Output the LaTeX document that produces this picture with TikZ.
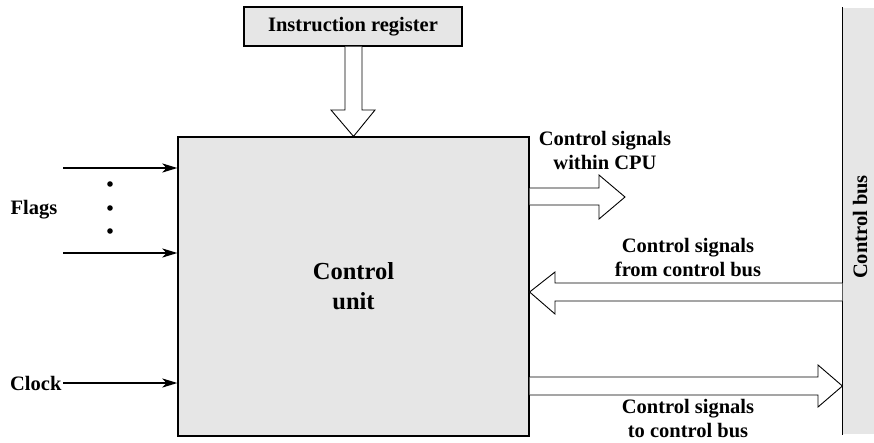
\documentclass[tikz,border=0pt]{standalone}
\usepackage{fontspec}
\setmainfont{Liberation Serif}
\usetikzlibrary{arrows.meta,positioning}
\definecolor{boxgray}{HTML}{E6E6E6}
\tikzset{
    hollow/.style={draw, fill=white, line width=0.9pt, line join=miter},
    flow/.style={line width=2.2pt, -{Stealth[length=15pt,width=9pt,inset=4pt]}},
    lbl/.style={font=\bfseries\fontsize{20.5}{24}\selectfont, align=center, inner sep=0pt}
}
\begin{document}
\begin{tikzpicture}[x=1pt, y=-1pt, every node/.style={line width=1.2pt}]
    \useasboundingbox (0,0) rectangle (874,442);
    % blocks
    \node[draw, fill=boxgray, minimum width=218pt, minimum height=39pt, lbl] (ir) at (353,26.5) {Instruction register};
    \node[draw, fill=boxgray, minimum width=351pt, minimum height=299pt, align=center,
          font=\bfseries\fontsize{24.5}{30}\selectfont] (cu) at (353.5,286.5) {Control\\unit};
    \node[fill=boxgray, minimum width=31pt, minimum height=426pt, inner sep=0pt] (bus) at (858.5,221) {};
    \draw[line width=1.2pt] (bus.north west) -- (bus.south west);
    \node[lbl, rotate=90] (buslbl) at (860,227) {Control bus};
    % inputs
    \coordinate (f1) at (63,168);
    \coordinate (f2) at (63,253);
    \draw[flow] (f1) -- (cu.west |- f1);
    \draw[flow] (f2) -- (cu.west |- f2);
    \foreach \y in {184,208,231} \fill (110,\y) circle (2.8pt);
    \node[lbl] (flags) at (34,210) {Flags};
    \node[lbl, anchor=east, inner sep=1pt] (clock) at (63,383) {Clock};
    \draw[flow] (clock.east) -- (cu.west |- clock.east);
    % hollow arrows
    \draw[hollow] (ir.south -| 345,0) -- (345,110) -- (331,110) -- (cu.north) -- (375,110) -- (362,110) -- (ir.south -| 362,0);
    \draw[hollow] (cu.east |- 0,188) -- (599,188) -- (599,175) -- (625,197) -- (599,219) -- (599,205) -- (cu.east |- 0,205);
    \draw[hollow] (bus.west |- 0,283) -- (555,283) -- (555,272) -- (cu.east |- 0,292) -- (555,314) -- (555,301) -- (bus.west |- 0,301);
    \draw[hollow] (cu.east |- 0,377) -- (818,377) -- (818,365) -- (bus.west |- 0,386) -- (818,407) -- (818,395) -- (cu.east |- 0,395);
    % labels
    \node[lbl] (within) at (605,150) {Control signals\\within CPU};
    \node[lbl] (from) at (688,258) {Control signals\\from control bus};
    \node[lbl] (to) at (688,419) {Control signals\\to control bus};
\end{tikzpicture}
\end{document}
